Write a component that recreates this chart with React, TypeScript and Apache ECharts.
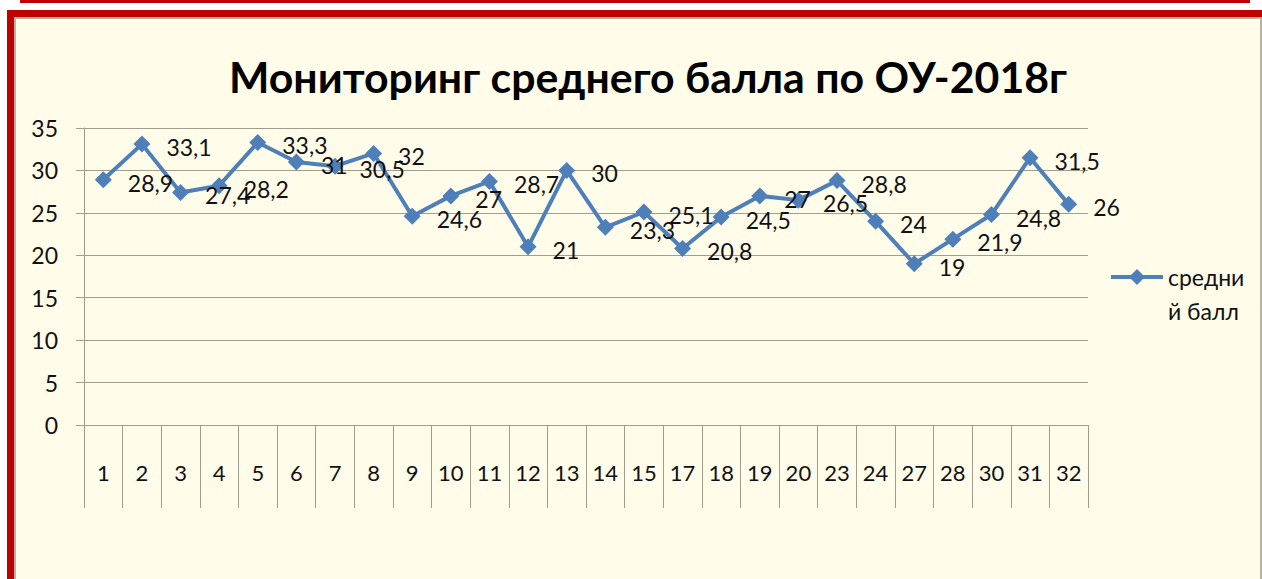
import React, { useEffect, useRef } from "react";
import * as echarts from "echarts";

const categories = ["1","2","3","4","5","6","7","8","9","10","11","12","13","14","15","17","18","19","20","23","24","27","28","30","31","32"];
const values = [28.9,33.1,27.4,28.2,33.3,31,30.5,32,24.6,27,28.7,21,30,23.3,25.1,20.8,24.5,27,26.5,28.8,24,19,21.9,24.8,31.5,26];
const seriesName = "средний балл";
const titleText = "Мониторинг среднего балла по ОУ-2018г";

const FONT = 'Lato, "Noto Sans", "Open Sans", sans-serif';
const GRAY = "#a29c8c";
const BLUE = "#4f7fb8";
const RED = "#c00000";

export default function App() {
  const ref = useRef<HTMLDivElement>(null);
  useEffect(() => {
    document.body.style.margin = "0";
    const chart = echarts.init(ref.current!, null, { renderer: "svg" });
    chart.setOption({
      animation: false,
      backgroundColor: "#ffffff",
      title: {
        text: titleText,
        left: 224,
        top: 50,
        textStyle: { fontFamily: FONT, fontWeight: "bold", fontSize: 42.8, color: "#000" },
      },
      graphic: [
        { type: "rect", z: -10, shape: { x: 20, y: 0, width: 1230, height: 3 }, style: { fill: RED } },
        { type: "rect", z: -10, shape: { x: 7, y: 10, width: 1255, height: 7 }, style: { fill: RED } },
        { type: "rect", z: -10, shape: { x: 7, y: 10, width: 7, height: 569 }, style: { fill: RED } },
        { type: "rect", z: -10, shape: { x: 14, y: 17, width: 1248, height: 562 }, style: { fill: "#b9b3a3" } },
        { type: "rect", z: -9, shape: { x: 16, y: 19, width: 1244, height: 560 }, style: { fill: "#fffde9" } },
      ],
      legend: {
        left: 1109,
        top: 223,
        padding: 0,
        itemWidth: 52,
        itemHeight: 20,
        itemGap: 4,
        lineStyle: { width: 4 },
        formatter: () => "\nсредни\nй балл",
        textStyle: { fontFamily: FONT, fontSize: 23, color: "#111", lineHeight: 34, padding: [6, 0, 0, 0] },
        data: [seriesName],
      },
      grid: { left: 84, right: 174, top: 128, bottom: 154, containLabel: false },
      xAxis: {
        type: "category",
        data: categories,
        boundaryGap: true,
        axisLine: { show: true, lineStyle: { color: GRAY, width: 1 } },
        axisTick: { show: true, interval: 0, length: 83, lineStyle: { color: GRAY, width: 1 } },
        axisLabel: { interval: 0, margin: 36, fontFamily: FONT, fontSize: 22, color: "#111" },
        splitLine: { show: false },
      },
      yAxis: {
        type: "value",
        min: 0,
        max: 35,
        interval: 5,
        axisLine: { show: true, lineStyle: { color: GRAY, width: 1 } },
        axisTick: { show: true, length: 8, lineStyle: { color: GRAY, width: 1 } },
        axisLabel: { margin: 26, fontFamily: FONT, fontSize: 23, color: "#111" },
        splitLine: { show: true, lineStyle: { color: GRAY, width: 1 } },
      },
      series: [
        {
          name: seriesName,
          type: "line",
          data: values,
          symbol: "diamond",
          symbolSize: 17,
          lineStyle: { color: BLUE, width: 4 },
          itemStyle: { color: BLUE },
          label: {
            show: true,
            position: "right",
            distance: 16,
            offset: [0, 3],
            fontFamily: FONT,
            fontSize: 23,
            color: "#111",
            formatter: (p: any) => String(p.value).replace(".", ","),
          },
        },
      ],
    });
    return () => chart.dispose();
  }, []);
  return <div ref={ref} style={{ position: "fixed", left: 0, top: 0, width: 1262, height: 579 }} />;
}
